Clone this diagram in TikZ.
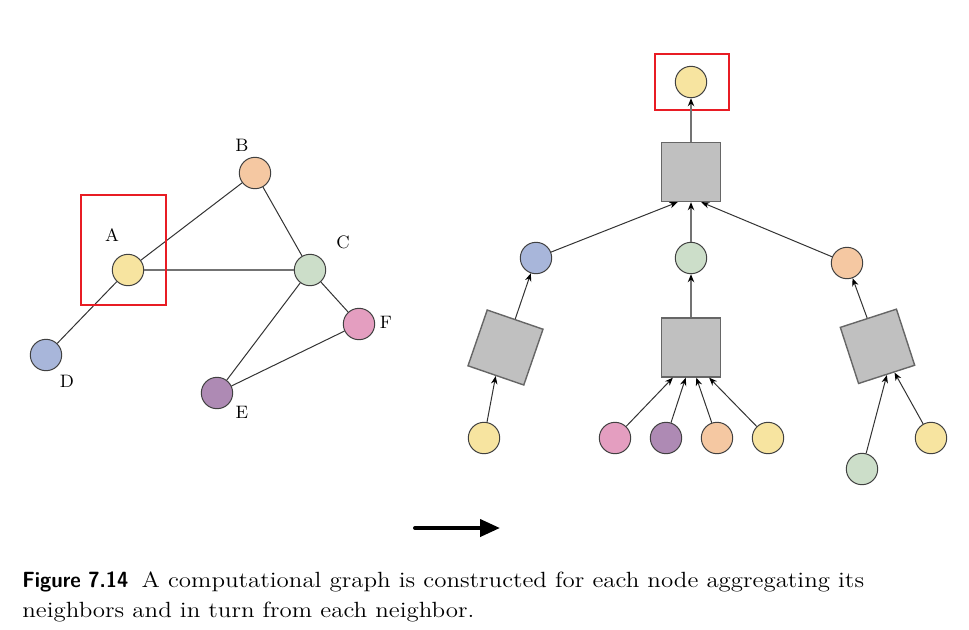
\documentclass[tikz,border=0pt]{standalone}
\usepackage{tikz}
\usepackage{color}
\usetikzlibrary{positioning,calc,arrows.meta}

\definecolor{nodeyellow}{RGB}{247,228,160}
\definecolor{nodeorange}{RGB}{245,200,162}
\definecolor{nodegreen}{RGB}{204,222,201}
\definecolor{nodeblue}{RGB}{168,182,218}
\definecolor{nodepink}{RGB}{228,158,192}
\definecolor{nodepurple}{RGB}{174,138,180}
\definecolor{aggray}{RGB}{192,192,192}
\definecolor{boxred}{RGB}{232,28,36}

\begin{document}
\begin{tikzpicture}[
				x=0.5pt, y=-0.5pt,
				vertex/.style={circle, draw=black!75, line width=0.5pt, minimum size=15.7pt, inner sep=0pt},
				agg/.style={rectangle, draw=black!60, fill=aggray, line width=0.7pt, minimum size=29.5pt, inner sep=0pt},
				letter/.style={rectangle, inner sep=0pt, font=\fontsize{9}{11}\selectfont},
				link/.style={draw=black!80, line width=0.5pt},
				hub/.style={draw=black!55, line width=0.8pt},
				focus/.style={draw=boxred, line width=1pt},
				flow/.style={line width=2pt, line cap=round, -{Triangle[length=10pt,width=8.5pt]}},
				captext/.style={rectangle, anchor=base west, inner sep=0pt, font=\fontsize{11}{15}\selectfont}
			]
			\useasboundingbox (0,0) rectangle (969,629);
			\node[vertex, fill=nodeyellow] (a) at (128,270) {};
			\node[vertex, fill=nodeorange] (b) at (255,173) {};
			\node[vertex, fill=nodegreen] (c) at (310,270) {};
			\node[vertex, fill=nodeblue] (d) at (46,355) {};
			\node[vertex, fill=nodepurple] (e) at (217,393) {};
			\node[vertex, fill=nodepink] (f) at (359,324) {};
			\node[letter] (alabel) at (112,235) {A};
			\node[letter] (blabel) at (242,145) {B};
			\node[letter] (clabel) at (343,242) {C};
			\node[letter] (dlabel) at (67,381) {D};
			\node[letter] (elabel) at (242,412) {E};
			\node[letter] (flabel) at (386,322) {F};
			\draw[link] (a) -- (b);
			\draw[link] (a) -- (d);
			\draw[link] (b) -- (c);
			\draw[link] (c) -- (e);
			\draw[link] (c) -- (f);
			\draw[link] (e) -- (f);
			\draw[hub] (a) -- (c);
			\draw[focus] (81,195) rectangle (166,305);
			\node[vertex, fill=nodeyellow] (root) at (691,82) {};
			\draw[focus] (655,54) rectangle (729,110);
			\node[agg] (rootagg) at (691,172) {};
			\node[vertex, fill=nodeblue] (nbd) at (536,258) {};
			\node[vertex, fill=nodegreen] (nbc) at (691,258) {};
			\node[vertex, fill=nodeorange] (nbb) at (847,263) {};
			\node[agg, rotate=-19] (aggd) at (505.5,347.5) {};
			\node[agg] (aggc) at (691,347.5) {};
			\node[agg, rotate=18] (aggb) at (877.5,346.3) {};
			\node[vertex, fill=nodeyellow] (da) at (484,438) {};
			\node[vertex, fill=nodepink] (cf) at (615,438) {};
			\node[vertex, fill=nodepurple] (ce) at (666,438) {};
			\node[vertex, fill=nodeorange] (cb) at (717,438) {};
			\node[vertex, fill=nodeyellow] (ca) at (768,438) {};
			\node[vertex, fill=nodegreen] (bc) at (862,469) {};
			\node[vertex, fill=nodeyellow] (ba) at (931,438) {};
			\begin{scope}[-{Stealth[length=4pt,width=3.2pt,color=black]}]
			\draw[hub] (rootagg) -- (root);
			\draw[link] (nbd) -- (rootagg.-114);
			\draw[hub] (nbc) -- (rootagg);
			\draw[link] (nbb) -- (rootagg.-71);
			\draw[link] (aggd) -- (nbd);
			\draw[hub] (aggc) -- (nbc);
			\draw[link] (aggb) -- (nbb);
			\draw[link] (da) -- (aggd.south);
			\draw[link] (cf) -- (aggc.-121);
			\draw[link] (ce) -- (aggc.-100);
			\draw[link] (cb) -- (aggc.-80);
			\draw[link] (ca) -- (aggc.-59);
			\draw[link] (bc) -- (aggb.south);
			\draw[link] (ba) -- (aggb.-75);
			\end{scope}
			\coordinate (flowstart) at (415,528);
			\coordinate (flowend) at (500,528);
			\draw[flow] (flowstart) -- (flowend);
			\node[captext] (captop) at (22,587) {\scalebox{0.93}[1]{\sffamily\bfseries Figure 7.14}\hspace{0.6em}\scalebox{1.134}[1]{A computational graph is constructed for each node aggregating its}};
			\node[captext] (capbottom) at (22,617) {\scalebox{1.134}[1]{neighbors and in turn from each neighbor.}};
			\end{tikzpicture}
\end{document}
